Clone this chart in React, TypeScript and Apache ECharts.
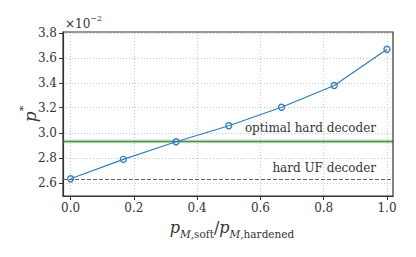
import React, { useEffect, useRef } from "react";
import * as echarts from "echarts";

const xValues = [0, 1 / 6, 2 / 6, 3 / 6, 4 / 6, 5 / 6, 1];
const pStar = [2.632, 2.787, 2.928, 3.056, 3.204, 3.378, 3.668];
const optimalHard = 2.932;
const optimalBand = [2.915, 2.948];
const hardUF = 2.635;
const xTicks = [0, 0.2, 0.4, 0.6, 0.8, 1.0];
const yTicks = [2.6, 2.8, 3.0, 3.2, 3.4, 3.6, 3.8];

const FONT = "DejaVu Serif";

export default function App() {
  const ref = useRef<HTMLDivElement>(null);
  useEffect(() => {
    if (!ref.current) return;
    const chart = echarts.init(ref.current, null, { renderer: "svg" });
    const axisLine = { show: true, lineStyle: { color: "#333", width: 1.2 } };
    chart.setOption({
      animation: false,
      backgroundColor: "#fff",
      grid: { left: 63, right: 23, top: 32, bottom: 61, show: false },
      xAxis: {
        type: "value",
        min: -0.024,
        max: 1.019,
        axisLine: { ...axisLine, onZero: false },
        axisTick: { show: true, customValues: xTicks, length: 4, lineStyle: { color: "#333" } },
        axisLabel: {
          customValues: xTicks,
          formatter: (v: number) => v.toFixed(1),
          fontFamily: FONT,
          fontSize: 12,
          color: "#333",
          margin: 6,
        },
        splitLine: { show: true, lineStyle: { color: "#bbb", type: [1, 2], width: 0.8 } },
      },
      yAxis: {
        type: "value",
        min: 2.494,
        max: 3.806,
        axisLine: { ...axisLine, onZero: false },
        axisTick: { show: true, customValues: yTicks, length: 4, lineStyle: { color: "#333" } },
        axisLabel: {
          customValues: yTicks,
          formatter: (v: number) => v.toFixed(1),
          fontFamily: FONT,
          fontSize: 12,
          color: "#333",
          margin: 6,
        },
        splitLine: { show: true, lineStyle: { color: "#bbb", type: [1, 2], width: 0.8 } },
      },
      series: [
        {
          type: "line",
          data: xValues.map((x, i) => [x, pStar[i]]),
          symbol: "circle",
          symbolSize: 6,
          showSymbol: true,
          lineStyle: { color: "#2f7fc1", width: 1.3 },
          itemStyle: { color: "rgba(255,255,255,0)", borderColor: "#2f7fc1", borderWidth: 1.3 },
          z: 5,
          markLine: {
            silent: true,
            symbol: "none",
            label: { show: false },
            data: [
              { yAxis: optimalHard, lineStyle: { color: "#4f8a4f", width: 1.3, type: "solid" } },
              { yAxis: hardUF, lineStyle: { color: "#666", width: 1, type: [4, 2] } },
            ],
          },
          markArea: {
            silent: true,
            itemStyle: { color: "rgba(120,190,120,0.3)" },
            data: [[{ yAxis: optimalBand[0] }, { yAxis: optimalBand[1] }]],
          },
        },
      ],
      graphic: [
        {
          type: "rect",
          shape: { x: 63, y: 32, width: 330, height: 164 },
          style: { fill: "none", stroke: "#333", lineWidth: 1.2 },
          silent: true,
          z: 10,
        },
        {
          type: "text",
          right: 40,
          top: 122,
          style: { text: "optimal hard decoder", font: `12px '${FONT}'`, fill: "#333" },
          z: 11,
        },
        {
          type: "text",
          right: 40,
          top: 162,
          style: { text: "hard UF decoder", font: `12px '${FONT}'`, fill: "#333" },
          z: 11,
        },
        {
          type: "text",
          left: 65,
          top: 14,
          style: {
            text: "{a|×10}{s|−2}",
            rich: {
              a: { fontFamily: FONT, fontSize: 12, lineHeight: 16, verticalAlign: "bottom", fill: "#333" },
              s: { fontFamily: FONT, fontSize: 8, lineHeight: 16, verticalAlign: "top", fill: "#333", padding: [0, 0, 6, 0] },
            },
          },
        },
        {
          type: "text",
          x: 28,
          y: 114,
          rotation: Math.PI / 2,
          style: {
            text: "{p|p}{s|*}",
            align: "center",
            verticalAlign: "middle",
            rich: {
              p: { fontFamily: FONT, fontStyle: "italic", fontSize: 17, lineHeight: 20, verticalAlign: "bottom", fill: "#333" },
              s: { fontFamily: FONT, fontSize: 11, lineHeight: 20, verticalAlign: "top", fill: "#333", padding: [0, 0, 8, 0] },
            },
          },
        },
        {
          type: "text",
          x: 232,
          y: 229,
          style: {
            text: "{p|p}{si|M}{s|,soft}{p2|/}{p|p}{si|M}{s|,hardened}",
            align: "center",
            verticalAlign: "middle",
            rich: {
              p: { fontFamily: FONT, fontStyle: "italic", fontSize: 16, lineHeight: 20, verticalAlign: "top", fill: "#333" },
              p2: { fontFamily: FONT, fontSize: 16, lineHeight: 20, verticalAlign: "top", fill: "#333" },
              si: { fontFamily: FONT, fontStyle: "italic", fontSize: 10.5, lineHeight: 11, verticalAlign: "bottom", fill: "#333", padding: [9, 0, 0, 0] },
              s: { fontFamily: FONT, fontSize: 10.5, lineHeight: 11, verticalAlign: "bottom", fill: "#333", padding: [9, 0, 0, 0] },
            },
          },
        },
      ],
    });
    return () => chart.dispose();
  }, []);
  return <div ref={ref} style={{ width: 416, height: 257, position: "absolute", left: 0, top: 0 }} />;
}
